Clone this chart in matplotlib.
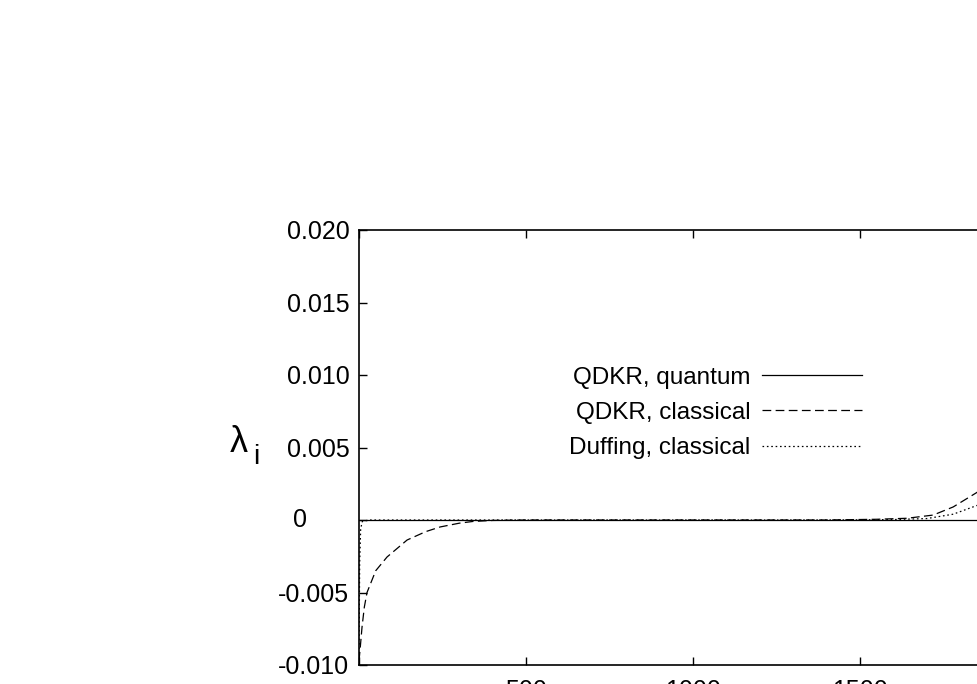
import matplotlib
matplotlib.use('Agg')
import matplotlib.pyplot as plt

plt.rcParams['font.family'] = ['Liberation Sans', 'DejaVu Sans']

# data
x_quant = [0, 2000]
y_quant = [0, 0]

x_qdkr = [0, 3, 9, 16, 24, 50, 84, 144, 200, 243, 300, 341, 400, 500,
          1400, 1550, 1641, 1719, 1779, 1850, 1900, 2000]
y_qdkr = [-0.0097, -0.0090, -0.0074, -0.0060, -0.0050, -0.0035, -0.00255,
          -0.00138, -0.0008, -0.00048, -0.00022, -0.0001, -0.00003, 0.0,
          0.0, 0.00005, 0.00012, 0.00034, 0.0009, 0.0019, 0.0028, 0.005]

x_duff = [0, 2, 5, 10, 30, 1400, 1600, 1700, 1779, 1850, 1900, 2000]
y_duff = [-0.0095, -0.003, -0.0006, -0.0001, 0.0, 0.0, 0.00003, 0.0001,
          0.0004, 0.001, 0.0015, 0.0028]

labels = ['QDKR, quantum', 'QDKR, classical', 'Duffing, classical']
xticks = [0, 500, 1000, 1500, 2000]
xticklabels = ['', '500', '1000', '1500', '2000']
yticks = [-0.010, -0.005, 0.0, 0.005, 0.010, 0.015, 0.020]
yticklabels = ['-0.010', '-0.005', '', '0.005', '0.010', '0.015', '0.020']

W, H = 977, 684
fig = plt.figure(figsize=(W / 100, H / 100), dpi=100)
# axes run off the right and bottom of the picture, like the cropped original
ax = fig.add_axes([359 / W, 19 / H, 668 / W, 435 / H])

ax.plot(x_quant, y_quant, color='black', lw=0.9, label=labels[0])
ax.plot(x_qdkr, y_qdkr, color='black', lw=0.9, ls=(0, (7, 3.5)), label=labels[1])
ax.plot(x_duff, y_duff, color='black', lw=0.9, ls=(0, (1.3, 2.2)), label=labels[2])

ax.set_xlim(0, 2000)
ax.set_ylim(-0.010, 0.020)
ax.set_xticks(xticks)
ax.set_xticklabels(xticklabels)
ax.set_yticks(yticks)
ax.set_yticklabels(yticklabels)
ax.tick_params(direction='in', length=5.5, width=1.0, labelsize=18,
               top=True, right=True, color='black')
ax.tick_params(axis='y', pad=7)
ax.tick_params(axis='x', pad=10)
for s in ax.spines.values():
    s.set_linewidth(1.2)

# zero label sits off to the left in the original
ax.text(-0.088, 0.0, '0', transform=ax.get_yaxis_transform(),
        ha='center', va='center', fontsize=18)

fig.text(239 / W, 1 - 442 / H, 'λ', fontsize=26, ha='center', va='center')
fig.text(256 / W, 1 - 457 / H, 'i', fontsize=20, ha='center', va='center')

ax.legend(loc='center right', bbox_to_anchor=(862 / W, 1 - 413 / H),
          bbox_transform=fig.transFigure, frameon=False, markerfirst=False,
          fontsize=17.5, handlelength=4.1, handletextpad=0.5,
          labelspacing=0.54, borderpad=0, borderaxespad=0)

fig.savefig('out.png', dpi=100)
